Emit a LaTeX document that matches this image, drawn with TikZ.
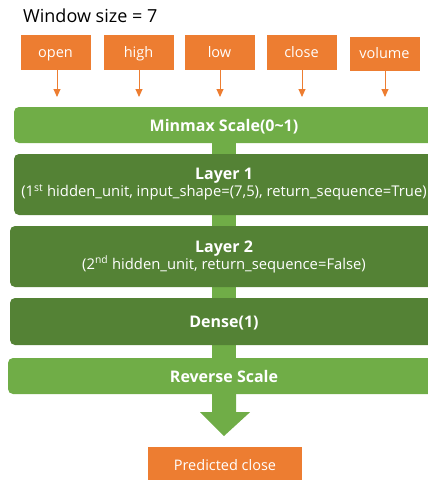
\documentclass[tikz,border=0pt]{standalone}
\usepackage{fontspec}
\setmainfont{Open Sans}
\usetikzlibrary{arrows.meta,calc,backgrounds}
\definecolor{orng}{HTML}{ED7D31}
\definecolor{lgreen}{HTML}{70AD47}
\definecolor{dgreen}{HTML}{548235}
\tikzset{
  inbox/.style={fill=orng, draw=white, line width=0.6pt, minimum width=71pt, minimum height=36pt,
    text=white, font=\fontsize{14.5}{17}\selectfont, inner sep=0pt, text height=12pt, text depth=2pt},
  lbox/.style={fill=lgreen, rounded corners=5pt, text=white, inner sep=0pt, align=center,
    font=\fontsize{16}{18}\selectfont\bfseries, text height=13pt, text depth=1pt},
  dbox/.style={fill=dgreen, rounded corners=5pt, text=white, inner sep=0pt, align=center,
    font=\fontsize{14.8}{17}\selectfont},
  boldline/.style={font=\fontsize{16}{18}\selectfont\bfseries, text height=13pt, text depth=1pt},
  inarrow/.style={draw=orng, line width=0.9pt, -{Triangle[width=7pt,length=8pt]}},
}
\begin{document}
\begin{tikzpicture}[x=1pt,y=-1pt]
\useasboundingbox (0,0) rectangle (428,480);
\clip (0,0) rectangle (428,480);
\node[anchor=base west, font=\fontsize{18}{21}\selectfont, inner sep=0pt] (title) at (23,22) {Window size = 7};
\node[inbox] (open) at (55.5,52) {open};
\node[inbox] (high) at (138.5,52) {high};
\node[inbox] (low) at (219.5,52) {low};
\node[inbox] (close) at (301.5,52) {close};
\node[inbox, minimum height=35pt] (volume) at (384.5,53.5) {volume};
\coordinate (a1) at (57,97);
\coordinate (a2) at (139,97);
\coordinate (a3) at (220,97);
\coordinate (a4) at (302,97);
\coordinate (a5) at (385,97);
\draw[inarrow] (open.south -| a1) -- (a1);
\draw[inarrow] (high.south -| a2) -- (a2);
\draw[inarrow] (low.south -| a3) -- (a3);
\draw[inarrow] (close.south -| a4) -- (a4);
\draw[inarrow] (volume.south -| a5) -- (a5);
\node[lbox, minimum width=420pt, minimum height=36pt] (minmax) at (224,125) {Minmax Scale(0\textasciitilde1)};
\node[dbox, minimum width=420pt, minimum height=61pt] (layer1) at (224,184.5)
  {{\fontsize{16}{18}\selectfont\bfseries Layer 1}\\(1\textsuperscript{st} hidden\_unit, input\_shape=(7,5), return\_sequence=True)};
\node[dbox, minimum width=428pt, minimum height=61pt] (layer2) at (224,256.5)
  {{\fontsize{16}{18}\selectfont\bfseries Layer 2}\\(2\textsuperscript{nd} hidden\_unit, return\_sequence=False)};
\node[dbox, minimum width=428pt, minimum height=47pt, boldline] (dense) at (224,321.5) {Dense(1)};
\node[lbox, minimum width=432pt, minimum height=36pt] (reverse) at (224,376) {Reverse Scale};
\node[fill=orng, minimum width=154pt, minimum height=36pt, text=white, inner sep=0pt,
  font=\fontsize{14.5}{17}\selectfont, text height=12pt, text depth=2pt] (pred) at (225,465) {Predicted close};
\coordinate (tip) at (224,436);
\begin{scope}[on background layer]
  \fill[lgreen] ($(minmax.center)+(-12,0)$) rectangle ($(reverse.center)+(12,0)$);
\end{scope}
\fill[lgreen] ($(reverse.south)+(-12,-1)$) -- ($(reverse.south)+(-12,18)$) -- ($(reverse.south)+(-24,18)$)
  -- (tip) -- ($(reverse.south)+(26,18)$) -- ($(reverse.south)+(12,18)$) -- ($(reverse.south)+(12,-1)$) -- cycle;
\end{tikzpicture}
\end{document}
